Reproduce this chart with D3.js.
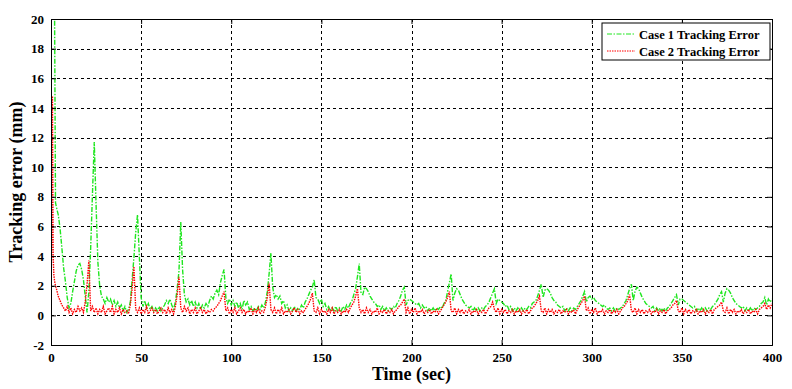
<!DOCTYPE html>
<html>
<head>
<meta charset="utf-8">
<script src="https://cdn.jsdelivr.net/npm/d3@7"></script>
<style>
  body { margin: 0; background: #fff; }
  text { font-family: "Liberation Serif", "Times New Roman", serif; font-weight: bold; }
</style>
</head>
<body>
<div id="chart"></div>
<script>
// ---------------- data ----------------
// fine samples during the first 3 s, then one sample per second
const startTimes = [0, 0.4, 0.8, 1.2, 1.6, 2, 2.5, 3];
const timeSec = startTimes.concat(d3.range(4, 401));

const case1Err = [
  19, 21, 22, 21, 20.5, 20, 7.6, 7.3,
  6.8, 5.9, 4.6, 3.2, 2.3, 1.2,
  0.5, 0.8, 1.6, 2.3, 3.0, 3.4, 3.5, 3.1, 2.4, 1.3,
  0.2, 1.6, 4.5, 8.2, 11.7, 7.5, 3.6, 2.0, 1.3, 1.1,
  0.8, 1.2, 0.9, 1.1, 0.7, 1.0, 0.6, 0.9, 0.5, 0.7,
  0.3, 0.6, 0.2, 0.4, 0.9, 2.4, 3.9, 5.6, 6.8, 4.0,
  1.2, 0.6, 1.0, 0.5, 0.8, 0.4, 0.6, 0.3, 0.5, 0.3,
  0.6, 0.3, 0.5, 0.7, 1.0, 0.8, 1.1, 0.7, 0.4, 0.9,
  1.8, 3.0, 6.3, 3.1, 1.4, 0.9, 1.1, 0.7, 1.0, 0.6,
  0.9, 0.5, 0.8, 0.4, 0.7, 0.5, 0.8, 0.6, 1.0, 1.3,
  1.1, 1.5, 1.7, 1.4, 2.2, 2.7, 3.1, 1.2, 0.8, 1.1,
  0.7, 1.0, 0.6, 0.9, 0.5, 0.8, 0.4, 1.0, 0.7, 0.9,
  0.4, 0.6, 0.3, 0.5, 0.3, 0.6, 0.4, 0.7, 0.5, 0.9,
  1.6, 2.8, 4.2, 1.9, 1.2, 1.4, 1.1, 1.3, 0.8, 1.0,
  0.5, 0.7, 0.3, 0.5, 0.3, 0.6, 0.3, 0.5, 0.4, 0.7,
  0.5, 0.9, 1.1, 1.4, 1.7, 1.9, 2.4, 1.2, 1.1, 0.8,
  1.1, 0.6, 0.8, 0.4, 0.6, 0.3, 0.5, 0.3, 0.6, 0.3,
  0.5, 0.3, 0.6, 0.4, 0.7, 0.5, 0.8, 1.0, 1.4, 1.8,
  2.6, 3.5, 1.5, 1.4, 1.9, 1.8, 1.6, 1.3, 1.1, 0.9,
  0.8, 0.6, 0.7, 0.4, 0.6, 0.3, 0.5, 0.3, 0.5, 0.4,
  0.6, 0.5, 0.8, 1.0, 1.3, 1.7, 1.9, 0.7, 1.0, 1.1,
  1.0, 0.9, 0.8, 0.7, 0.8, 0.5, 0.7, 0.5, 0.6, 0.3,
  0.5, 0.3, 0.5, 0.3, 0.5, 0.4, 0.6, 0.5, 0.8, 1.0,
  1.6, 2.2, 2.8, 1.0, 1.5, 1.8, 1.7, 1.4, 1.1, 0.9,
  0.7, 0.6, 0.5, 0.6, 0.3, 0.5, 0.3, 0.5, 0.3, 0.5,
  0.4, 0.6, 0.7, 0.9, 1.2, 1.5, 1.8, 0.8, 1.1, 1.0,
  0.9, 0.8, 0.6, 0.7, 0.4, 0.6, 0.3, 0.5, 0.3, 0.5,
  0.3, 0.5, 0.3, 0.5, 0.4, 0.6, 0.5, 0.8, 0.9, 1.0,
  1.3, 1.7, 2.1, 1.2, 1.7, 1.8, 1.7, 1.5, 1.2, 1.0,
  0.9, 0.7, 0.6, 0.5, 0.6, 0.3, 0.5, 0.3, 0.5, 0.3,
  0.5, 0.4, 0.6, 0.8, 1.0, 1.3, 1.6, 0.9, 1.2, 1.3,
  1.1, 1.2, 1.0, 0.9, 0.8, 0.7, 0.6, 0.7, 0.5, 0.4,
  0.5, 0.3, 0.5, 0.3, 0.5, 0.4, 0.5, 0.6, 0.8, 1.0,
  1.4, 1.8, 2.1, 1.0, 1.6, 1.9, 1.8, 1.5, 1.2, 1.0,
  0.8, 0.7, 0.6, 0.5, 0.6, 0.3, 0.5, 0.3, 0.5, 0.3,
  0.5, 0.3, 0.5, 0.6, 0.8, 1.0, 1.2, 1.4, 0.7, 1.1,
  1.1, 1.0, 0.9, 0.8, 0.7, 0.6, 0.5, 0.6, 0.3, 0.5,
  0.3, 0.5, 0.3, 0.5, 0.3, 0.5, 0.4, 0.6, 0.7, 0.9,
  1.1, 1.4, 1.6, 0.9, 1.5, 1.8, 1.7, 1.5, 1.2, 1.0,
  0.8, 0.7, 0.6, 0.5, 0.6, 0.3, 0.5, 0.3, 0.5, 0.3,
  0.5, 0.4, 0.5, 0.6, 0.8, 0.9, 1.2, 0.7, 1.1, 0.9,
  1.1
];

const case2Err = [
  1.5, 5.0, 14.8, 4.0, 2.7, 2.3, 2.0, 1.8,
  1.3, 1.0, 0.7, 0.5, 0.3, 0.6,
  0.2, 0.5, 0.1, 0.4, 0.2, 0.6, 0.3, 0.5, 0.2, 0.9,
  2.1, 3.7, 0.3, 0.6, 0.2, 0.5, 0.1, 0.4, 0.2, 0.6,
  0.1, 0.3, 0.5, 0.2, 0.6, 0.1, 0.4, 0.2, 0.5, 0.1,
  0.4, 0.2, 0.3, 0.1, 0.7, 1.8, 3.3, 0.4, 0.2, 0.5,
  0.1, 0.4, 0.2, 0.6, 0.1, 0.3, 0.5, 0.2, 0.4, 0.1,
  0.3, 0.5, 0.2, 0.4, 0.1, 0.5, 0.2, 0.4, 0.1, 0.6,
  1.4, 2.6, 0.5, 0.2, 0.6, 0.3, 0.5, 0.1, 0.4, 0.2,
  0.5, 0.1, 0.3, 0.5, 0.2, 0.4, 0.1, 0.3, 0.2, 0.4,
  0.3, 0.5, 0.6, 0.8, 1.0, 1.3, 1.6, 0.3, 0.5, 0.1,
  0.4, 0.2, 0.5, 0.1, 0.3, 0.5, 0.2, 0.4, 0.1, 0.3,
  0.2, 0.5, 0.1, 0.4, 0.2, 0.5, 0.1, 0.3, 0.2, 0.6,
  1.2, 2.2, 0.4, 0.2, 0.5, 0.1, 0.4, 0.2, 0.5, 0.1,
  0.3, 0.2, 0.4, 0.1, 0.3, 0.5, 0.2, 0.4, 0.1, 0.3,
  0.2, 0.4, 0.6, 0.8, 1.1, 1.5, 0.3, 0.2, 0.5, 0.1,
  0.4, 0.2, 0.3, 0.1, 0.4, 0.2, 0.5, 0.1, 0.3, 0.2,
  0.4, 0.1, 0.3, 0.2, 0.4, 0.2, 0.5, 0.7, 0.9, 1.3,
  1.8, 0.5, 0.2, 0.4, 0.1, 0.5, 0.2, 0.4, 0.1, 0.3,
  0.2, 0.5, 0.1, 0.3, 0.2, 0.4, 0.1, 0.3, 0.2, 0.4,
  0.1, 0.3, 0.4, 0.6, 0.7, 0.9, 1.1, 0.2, 0.5, 0.1,
  0.4, 0.2, 0.5, 0.1, 0.3, 0.2, 0.4, 0.1, 0.3, 0.2,
  0.4, 0.1, 0.3, 0.2, 0.4, 0.1, 0.3, 0.5, 0.7, 0.9,
  1.2, 1.6, 0.3, 0.2, 0.5, 0.1, 0.4, 0.2, 0.4, 0.1,
  0.3, 0.2, 0.4, 0.1, 0.3, 0.2, 0.4, 0.1, 0.3, 0.2,
  0.4, 0.1, 0.3, 0.5, 0.6, 0.9, 0.4, 0.2, 0.5, 0.1,
  0.4, 0.2, 0.4, 0.1, 0.3, 0.2, 0.4, 0.1, 0.3, 0.2,
  0.4, 0.1, 0.3, 0.2, 0.4, 0.1, 0.3, 0.5, 0.6, 0.8,
  1.0, 1.3, 0.3, 0.2, 0.5, 0.1, 0.4, 0.2, 0.4, 0.1,
  0.3, 0.2, 0.4, 0.1, 0.3, 0.2, 0.4, 0.1, 0.3, 0.2,
  0.4, 0.1, 0.4, 0.6, 0.8, 1.0, 1.3, 0.3, 0.5, 0.1,
  0.4, 0.2, 0.5, 0.1, 0.3, 0.2, 0.4, 0.1, 0.3, 0.2,
  0.4, 0.1, 0.3, 0.2, 0.4, 0.1, 0.3, 0.5, 0.6, 0.8,
  1.0, 1.4, 0.3, 0.2, 0.5, 0.1, 0.4, 0.2, 0.4, 0.1,
  0.3, 0.2, 0.4, 0.1, 0.3, 0.2, 0.4, 0.1, 0.3, 0.2,
  0.4, 0.1, 0.3, 0.4, 0.5, 0.7, 0.8, 1.0, 0.3, 0.2,
  0.5, 0.1, 0.4, 0.2, 0.4, 0.1, 0.3, 0.2, 0.4, 0.1,
  0.3, 0.2, 0.4, 0.1, 0.3, 0.2, 0.4, 0.1, 0.4, 0.5,
  0.6, 0.7, 0.9, 0.3, 0.2, 0.5, 0.1, 0.4, 0.2, 0.4,
  0.1, 0.3, 0.2, 0.4, 0.1, 0.3, 0.2, 0.4, 0.1, 0.3,
  0.2, 0.4, 0.1, 0.4, 0.5, 0.6, 0.8, 0.4, 0.7, 0.5,
  0.8
];

const xTicks = [0, 50, 100, 150, 200, 250, 300, 350, 400];
const yTicks = [-2, 0, 2, 4, 6, 8, 10, 12, 14, 16, 18, 20];
const seriesNames = ["Case 1 Tracking Error", "Case 2 Tracking Error"];

// ---------------- layout ----------------
const WIDTH = 792, HEIGHT = 389;
const LEFT = 51, RIGHT = 772, TOP = 19, BOTTOM = 345;
const TICK_LEN = 5;

const svg = d3.select("#chart").append("svg")
  .attr("width", WIDTH)
  .attr("height", HEIGHT);

const x = d3.scaleLinear().domain([0, 400]).range([LEFT, RIGHT]);
const y = d3.scaleLinear().domain([-2, 20]).range([BOTTOM, TOP]);

svg.append("clipPath").attr("id", "plot-clip")
  .append("rect")
  .attr("x", LEFT).attr("y", TOP)
  .attr("width", RIGHT - LEFT).attr("height", BOTTOM - TOP);

// grid
const grid = svg.append("g").attr("class", "grid")
  .attr("stroke", "#000").attr("stroke-width", 1)
  .attr("stroke-dasharray", "3,3");

grid.selectAll(".vgrid")
  .data(xTicks.filter(d => d > 0 && d < 400))
  .join("line")
  .attr("x1", d => Math.round(x(d)) + 0.5).attr("x2", d => Math.round(x(d)) + 0.5)
  .attr("y1", TOP).attr("y2", BOTTOM);

grid.selectAll(".hgrid")
  .data(yTicks.filter(d => d > -2 && d < 20))
  .join("line")
  .attr("y1", d => Math.round(y(d)) + 0.5).attr("y2", d => Math.round(y(d)) + 0.5)
  .attr("x1", LEFT).attr("x2", RIGHT);

// series
const series = [
  { name: seriesNames[0], values: case1Err, color: "#1fe61f", dash: "5,1.5,1.5,1.5", width: 1.4 },
  { name: seriesNames[1], values: case2Err, color: "#ff0000", dash: "1.5,1", width: 1.4 }
];

const line = d3.line()
  .x((d, i) => x(timeSec[i]))
  .y(d => y(d));

svg.append("g").attr("clip-path", "url(#plot-clip)")
  .selectAll("path")
  .data(series)
  .join("path")
  .attr("d", d => line(d.values))
  .attr("fill", "none")
  .attr("stroke", d => d.color)
  .attr("stroke-width", d => d.width)
  .attr("stroke-dasharray", d => d.dash);

// axes: ticks inside, box on all four sides
const plainNum = d => String(d);
const axisBottom = d3.axisBottom(x).tickValues(xTicks).tickSize(-TICK_LEN).tickPadding(8).tickFormat(plainNum);
const axisLeft = d3.axisLeft(y).tickValues(yTicks).tickSize(-TICK_LEN).tickPadding(7).tickFormat(plainNum);
const axisTop = d3.axisTop(x).tickValues(xTicks).tickSize(-TICK_LEN).tickFormat("");
const axisRight = d3.axisRight(y).tickValues(yTicks).tickSize(-TICK_LEN).tickFormat("");

function styleAxis(g) {
  g.select(".domain").attr("stroke", "#000").attr("stroke-width", 1);
  g.selectAll(".tick line").attr("stroke", "#000");
  g.selectAll(".tick text")
    .attr("fill", "#000")
    .style("font-size", "13px")
    .style("font-family", "'Liberation Serif', serif")
    .style("font-weight", "bold");
}

svg.append("g").attr("transform", `translate(0,${BOTTOM})`).call(axisBottom).call(styleAxis);
svg.append("g").attr("transform", `translate(${LEFT},0)`).call(axisLeft).call(styleAxis);
svg.append("g").attr("transform", `translate(0,${TOP})`).call(axisTop).call(styleAxis);
svg.append("g").attr("transform", `translate(${RIGHT},0)`).call(axisRight).call(styleAxis);

// axis titles
svg.append("text")
  .text("Time (sec)")
  .attr("x", (LEFT + RIGHT) / 2)
  .attr("y", 380)
  .attr("text-anchor", "middle")
  .style("font-size", "18px");

svg.append("text")
  .text("Tracking error (mm)")
  .attr("transform", `translate(22,${(TOP + BOTTOM) / 2}) rotate(-90)`)
  .attr("text-anchor", "middle")
  .style("font-size", "18px");

// legend
const legend = svg.append("g").attr("transform", "translate(602,23)");
legend.append("rect")
  .attr("width", 168).attr("height", 37)
  .attr("fill", "#fff").attr("stroke", "#000");

const items = legend.selectAll(".item")
  .data(series)
  .join("g")
  .attr("transform", (d, i) => `translate(0,${11 + i * 17})`);

items.append("line")
  .attr("x1", 5).attr("x2", 33).attr("y1", 0).attr("y2", 0)
  .attr("stroke", d => d.color)
  .attr("stroke-dasharray", d => d.dash);

items.append("text")
  .text(d => d.name)
  .attr("x", 37).attr("y", 4.5)
  .style("font-size", "12.5px");
</script>
</body>
</html>
